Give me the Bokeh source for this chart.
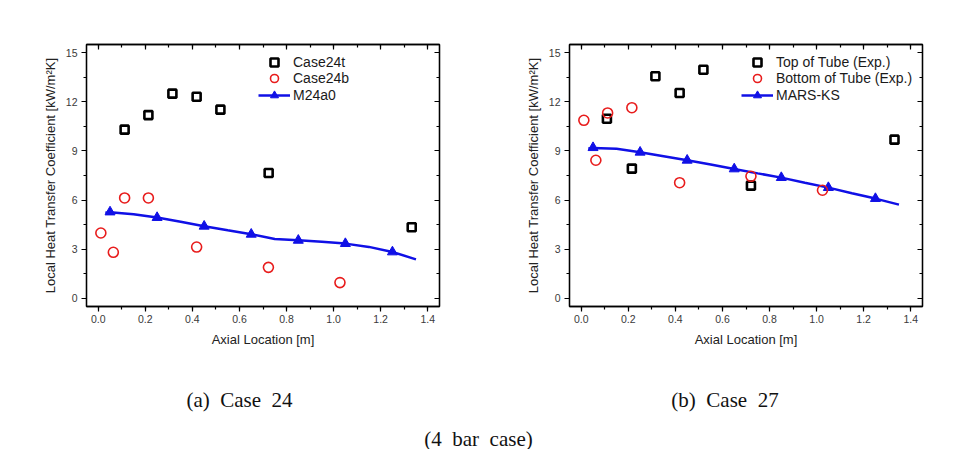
from bokeh.plotting import figure
from bokeh.layouts import column, row
from bokeh.models import (Range1d, LinearAxis, FixedTicker, NumeralTickFormatter,
                          Legend, LegendItem, Label, CustomJSTickFormatter)
from bokeh.embed import file_html
from bokeh.resources import INLINE

# ---------------- data ----------------
# (a) Case 24
a_top_x = [0.112, 0.213, 0.315, 0.418, 0.519, 0.724, 1.332]
a_top_y = [10.30, 11.19, 12.50, 12.31, 11.52, 7.65, 4.34]
a_bot_x = [0.011, 0.064, 0.112, 0.213, 0.418, 0.723, 1.027]
a_bot_y = [3.99, 2.81, 6.13, 6.13, 3.13, 1.89, 0.96]
a_mod_x = [0.05, 0.25, 0.45, 0.65, 0.85, 1.05, 1.25]
a_mod_y = [5.27, 4.93, 4.40, 3.91, 3.54, 3.34, 2.83]
a_curve_x = [0.03, 0.05, 0.15, 0.25, 0.35, 0.45, 0.55, 0.65, 0.75, 0.85, 0.95, 1.05, 1.15, 1.25, 1.35]
a_curve_y = [5.22, 5.25, 5.13, 4.93, 4.68, 4.40, 4.15, 3.91, 3.62, 3.54, 3.45, 3.34, 3.14, 2.83, 2.38]
a_labels = ["Case24t", "Case24b", "M24a0"]

# (b) Case 27
b_top_x = [0.109, 0.215, 0.315, 0.418, 0.519, 0.721, 1.331]
b_top_y = [10.97, 7.92, 13.56, 12.54, 13.96, 6.88, 9.69]
b_bot_x = [0.011, 0.062, 0.112, 0.215, 0.418, 0.721, 1.025]
b_bot_y = [10.87, 8.43, 11.32, 11.64, 7.06, 7.45, 6.60]
b_mod_x = [0.05, 0.25, 0.45, 0.65, 0.85, 1.05, 1.25]
b_mod_y = [9.20, 8.92, 8.43, 7.90, 7.37, 6.76, 6.09]
b_curve_x = [0.03, 0.05, 0.15, 0.25, 0.35, 0.45, 0.55, 0.65, 0.75, 0.85, 0.95, 1.05, 1.15, 1.25, 1.35]
b_curve_y = [9.15, 9.18, 9.13, 8.92, 8.68, 8.43, 8.17, 7.90, 7.63, 7.37, 7.06, 6.76, 6.42, 6.09, 5.72]
b_labels = ["Top of Tube (Exp.)", "Bottom of Tube (Exp.)", "MARS-KS"]

x_ticks = [0.0, 0.2, 0.4, 0.6, 0.8, 1.0, 1.2, 1.4]
x_minor = [round(-0.1 + 0.1 * i, 1) for i in range(17)]
y_ticks = [0, 3, 6, 9, 12, 15]
y_minor = [1.5 * i for i in range(11)]

x_title = "Axial Location [m]"
y_title = "Local Heat Transfer Coefficient [kW/m\u00b2K]"
captions = ["(a)\u00a0 Case\u00a0 24", "(b)\u00a0 Case\u00a0 27", "(4\u00a0 bar\u00a0 case)"]

BLUE = "#1010e6"
RED = "#e81c1c"
SANS = "Liberation Sans"


def panel(top_x, top_y, bot_x, bot_y, mod_x, mod_y, cx, cy, labels, left_border, right_border):
    p = figure(frame_width=353, frame_height=262,
               x_range=Range1d(-0.05, 1.45), y_range=Range1d(-0.5, 15.5),
               min_border_left=left_border, min_border_right=right_border,
               min_border_top=44, min_border_bottom=62,
               output_backend="svg", toolbar_location=None,
               background_fill_color="white", border_fill_color="white")
    p.xgrid.visible = False
    p.ygrid.visible = False
    p.outline_line_color = "black"
    p.outline_line_width = 1.3

    xt = FixedTicker(ticks=x_ticks, minor_ticks=x_minor)
    yt = FixedTicker(ticks=y_ticks, minor_ticks=y_minor)

    for ax, tk, fmt in ((p.xaxis[0], xt, "0.0"), (p.yaxis[0], yt, "0")):
        ax.ticker = tk
        ax.formatter = NumeralTickFormatter(format=fmt)
        ax.major_tick_out = 5
        ax.major_tick_in = 0
        ax.minor_tick_out = 3
        ax.minor_tick_in = 0
        ax.axis_line_color = "black"
        ax.axis_line_width = 1.3
        ax.major_tick_line_color = "black"
        ax.minor_tick_line_color = "black"
        ax.major_tick_line_width = 1.2
        ax.minor_tick_line_width = 1.2
        ax.major_label_text_font = SANS
        ax.major_label_text_font_size = "10.5px"
        ax.major_label_text_color = "#3a3a3a"
        ax.axis_label_text_font = SANS
        ax.axis_label_text_font_size = "13px"
        ax.axis_label_text_font_style = "normal"
        ax.axis_label_text_color = "#222222"
    p.xaxis[0].major_label_standoff = 3
    p.xaxis[0].axis_label_standoff = 6
    p.yaxis[0].major_label_standoff = 4
    p.yaxis[0].axis_label_standoff = 5
    p.xaxis[0].axis_label = x_title
    p.yaxis[0].axis_label = y_title

    blank = CustomJSTickFormatter(code="return ''")
    for loc, tk in (("above", xt), ("right", yt)):
        ax = LinearAxis(ticker=tk, formatter=blank)
        ax.major_tick_in = 5
        ax.major_tick_out = 0
        ax.minor_tick_in = 3
        ax.minor_tick_out = 0
        ax.axis_line_color = "black"
        ax.axis_line_width = 1.3
        ax.major_tick_line_width = 1.2
        ax.minor_tick_line_width = 1.2
        ax.major_label_text_font_size = "1px"
        ax.major_label_standoff = 0
        p.add_layout(ax, loc)

    ln = p.line(cx, cy, line_color=BLUE, line_width=2.5)
    tri = p.scatter(mod_x, mod_y, marker="triangle", size=10,
                    fill_color=BLUE, line_color=BLUE, line_width=1)
    sq = p.scatter(top_x, top_y, marker="square", size=8,
                   fill_color=None, line_color="black", line_width=2.6)
    ci = p.scatter(bot_x, bot_y, marker="circle", size=10,
                   fill_color=None, line_color=RED, line_width=1.6)

    # one legend per row, rows 16 px apart
    for label, rends, vy in ((labels[0], [sq], 234), (labels[1], [ci], 218),
                             (labels[2], [ln, tri], 201)):
        legend = Legend(items=[LegendItem(label=label, renderers=rends)],
                        location=(172, vy), glyph_width=32, glyph_height=20,
                        label_height=20, label_standoff=3, spacing=0, padding=0,
                        margin=0, border_line_color=None, background_fill_alpha=0,
                        label_text_font=SANS, label_text_font_size="14px",
                        label_text_color="#1a1a1a")
        p.add_layout(legend)
    return p


pa = panel(a_top_x, a_top_y, a_bot_x, a_bot_y, a_mod_x, a_mod_y,
           a_curve_x, a_curve_y, a_labels, 86, 51)
pb = panel(b_top_x, b_top_y, b_bot_x, b_bot_y, b_mod_x, b_mod_y,
           b_curve_x, b_curve_y, b_labels, 79, 50)

cap = figure(width=972, height=81, x_range=Range1d(0, 972), y_range=Range1d(0, 81),
             min_border=0, output_backend="svg", toolbar_location=None,
             x_axis_type=None, y_axis_type=None, outline_line_color=None)
cap.xgrid.visible = False
cap.ygrid.visible = False
for txt, cx_, cy_ in ((captions[0], 239, 50), (captions[1], 724.5, 50),
                      (captions[2], 478, 11)):
    cap.add_layout(Label(x=cx_, y=cy_, text=txt, text_align="center",
                         text_baseline="middle", text_font="Liberation Serif",
                         text_font_size="21px", text_color="#111111"))

layout = column(row(pa, pb, spacing=0), cap, spacing=0)
open("out.html", "w").write(file_html(layout, INLINE))
